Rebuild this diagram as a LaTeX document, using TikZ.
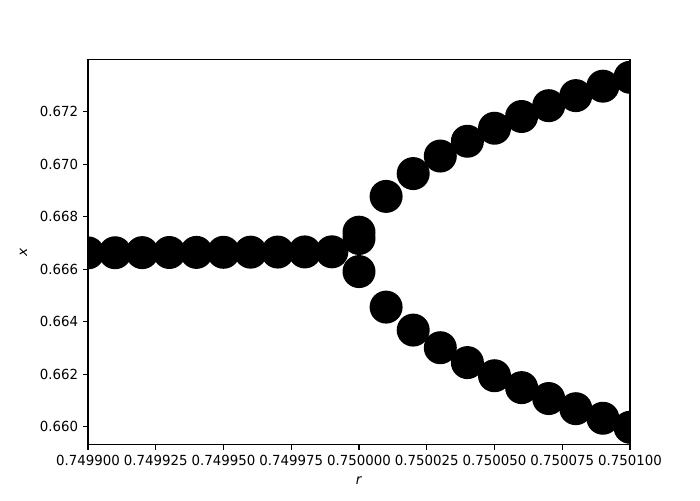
\documentclass[tikz,border=0pt]{standalone}
\usepackage{fontspec}
\setmainfont{DejaVu Sans}
\usetikzlibrary{positioning}

\tikzset{
  dot/.style={fill=black},
  spine/.style={line width=0.8pt, line cap=rect},
  tickmark/.style={line width=0.8pt},
  ticklab/.style={font=\fontsize{10}{12}\selectfont, inner sep=0pt, xscale=0.96}
}

\begin{document}
\begin{tikzpicture}[x=0.72pt,y=0.72pt]
 \useasboundingbox (0,0) rectangle (700,500);
 \begin{scope}[shift={(88,230.8)},x=19.512pt,y=18.9pt]
  % markers, cut at the axes
  \begin{scope}
   \clip (0,-6.689) rectangle (20,7.978);
   \foreach \i/\u in {0/0.622,1/0.627,2/0.631,3/0.636,4/0.640,5/0.644,6/0.649,7/0.653,8/0.658,9/0.662,
                      10/1.41,10/1.17,10/-0.09}
     \fill[dot] (\i,\u) circle[radius=11.88pt];
   \foreach \k/\up/\lo in {1/2.773/-1.444,2/3.643/-2.319,3/4.311/-2.991,4/4.874/-3.558,5/5.370/-4.058,
                           6/5.817/-4.511,7/6.229/-4.927,8/6.612/-5.314,9/6.972/-5.678,10/7.311/-6.022}
   {
     \fill[dot] (10+\k,\up) circle[radius=11.88pt];
     \fill[dot] (10+\k,\lo) circle[radius=11.88pt];
   }
  \end{scope}
  % axes box
  \draw[spine] (0,-6.689) rectangle (20,7.978);
  % x ticks
  \foreach \x/\lab [count=\n from 0] in {0/0.749900,2.5/0.749925,5/0.749950,7.5/0.749975,10/0.750000,
                                        12.5/0.750025,15/0.750050,17.5/0.750075,20/0.750100}
  {
    \draw[tickmark] (\x,-6.689) -- ++(0,-3.5pt);
    \node[ticklab, anchor=north] (xt\n) at ([yshift=-7pt]\x,-6.689) {\lab};
  }
  % y ticks
  \foreach \y/\lab [count=\n from 0] in {-6/0.660,-4/0.662,-2/0.664,0/0.666,2/0.668,4/0.670,6/0.672}
  {
    \draw[tickmark] (0,\y) -- ++(-3.5pt,0);
    \node[ticklab, anchor=east] (yt\n) at ([xshift=-7pt]0,\y) {\lab};
  }
 \end{scope}
 \node[ticklab, below=8pt of xt4] (xlab) {\textit{r}};
 \node[ticklab, rotate=90] (ylab) at (23.5,247.5) {\textit{x}};
\end{tikzpicture}
\end{document}
